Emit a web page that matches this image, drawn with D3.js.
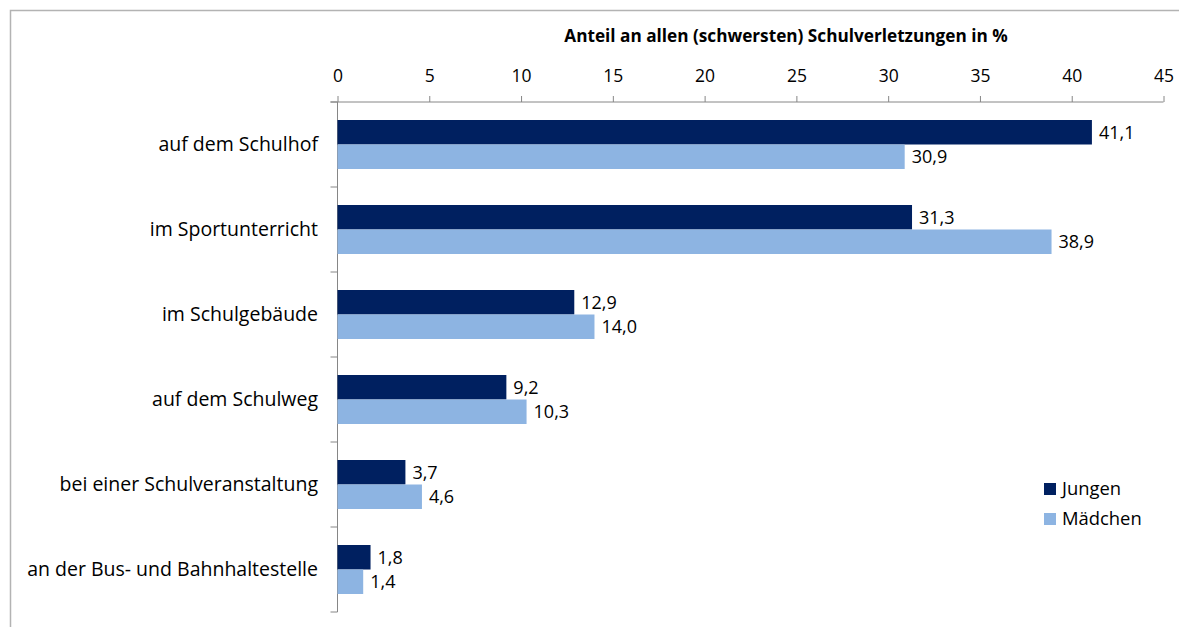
<!DOCTYPE html>
<html>
<head>
<meta charset="utf-8">
<script src="https://cdn.jsdelivr.net/npm/d3@7"></script>
<style>
  body { margin: 0; background: #fff; }
  svg text { font-family: "Open Sans", "Liberation Sans", sans-serif; fill: #000; }
</style>
</head>
<body>
<svg id="chart" width="1179" height="627"></svg>
<script>
// categories top to bottom
const categories = [
    'auf dem Schulhof',
    'im Sportunterricht',
    'im Schulgebäude',
    'auf dem Schulweg',
    'bei einer Schulveranstaltung',
    'an der Bus- und Bahnhaltestelle'
];
const jungen = [41.1, 31.3, 12.9, 9.2, 3.7, 1.8];
const maedchen = [30.9, 38.9, 14.0, 10.3, 4.6, 1.4];
const seriesNames = ['Jungen', 'Mädchen'];
const seriesColors = ['#002060', '#8DB4E2'];
const xTicks = [0, 5, 10, 15, 20, 25, 30, 35, 40, 45];
const axisTitle = 'Anteil an allen (schwersten) Schulverletzungen in %';

const svg = d3.select('#chart');
const plotLeft = 337.5, plotRight = 1163.5, plotTop = 102, plotBottom = 612;
const fontFamily = '"Open Sans", "Liberation Sans", sans-serif';

// outer frame (only top and left edges are inside the picture)
svg.append('path')
    .attr('d', 'M10.5,627 V10.5 H1179')
    .attr('fill', 'none')
    .attr('stroke', '#b3b3b3')
    .attr('stroke-width', 1.5);

const x = d3.scaleLinear().domain([0, 45]).range([plotLeft, plotRight]);
const y = d3.scaleBand().domain(categories).range([plotTop, plotBottom]);
const barH = 24.5;

// top axis
const xAxis = svg.append('g')
    .attr('transform', 'translate(0,' + plotTop + ')')
    .call(d3.axisTop(x).tickValues(xTicks).tickSize(6).tickPadding(14));
xAxis.selectAll('line, path').attr('stroke', '#868686');
xAxis.select('.domain').attr('d', 'M' + (plotLeft - 7) + ',0H' + plotRight);
xAxis.selectAll('text')
    .style('font-size', '17.5px')
    .style('font-family', fontFamily)
    .attr('fill', '#000');

// left axis with ticks at category boundaries
const boundaries = d3.range(categories.length + 1).map(i => plotTop + i * y.step());
svg.append('line')
    .attr('x1', plotLeft).attr('x2', plotLeft)
    .attr('y1', plotTop).attr('y2', plotBottom)
    .attr('stroke', '#868686');
svg.selectAll('.ytick').data(boundaries).join('line')
    .attr('class', 'ytick')
    .attr('x1', plotLeft - 7).attr('x2', plotLeft)
    .attr('y1', d => d).attr('y2', d => d)
    .attr('stroke', '#868686');

svg.selectAll('.cat').data(categories).join('text')
    .attr('class', 'cat')
    .attr('x', 318)
    .attr('y', d => y(d) + y.bandwidth() / 2)
    .attr('dy', '0.35em')
    .attr('text-anchor', 'end')
    .style('font-size', '19.5px')
    .text(d => d);

// bars
[jungen, maedchen].forEach((vals, s) => {
    const g = svg.append('g');
    g.selectAll('rect').data(vals).join('rect')
        .attr('x', plotLeft)
        .attr('y', (d, i) => y(categories[i]) + y.bandwidth() / 2 - barH + s * barH)
        .attr('width', d => x(d) - plotLeft)
        .attr('height', barH)
        .attr('fill', seriesColors[s]);
    g.selectAll('text').data(vals).join('text')
        .attr('x', d => x(d) + 7)
        .attr('y', (d, i) => y(categories[i]) + y.bandwidth() / 2 - barH / 2 + s * barH)
        .attr('dy', '0.35em')
        .style('font-size', '18px')
        .text(d => d.toFixed(1).replace('.', ','));
});

// title
svg.append('text')
    .attr('x', 786)
    .attr('y', 42)
    .attr('text-anchor', 'middle')
    .style('font-size', '17.2px')
    .style('font-weight', 'bold')
    .text(axisTitle);

// legend
const legend = svg.append('g').attr('transform', 'translate(1044,483)');
seriesNames.forEach((name, i) => {
    legend.append('rect')
        .attr('x', 0).attr('y', i * 30)
        .attr('width', 12).attr('height', 12)
        .attr('fill', seriesColors[i]);
    legend.append('text')
        .attr('x', 18).attr('y', i * 30 + 6)
        .attr('dy', '0.35em')
        .style('font-size', '18.4px')
        .text(name);
});
</script>
</body>
</html>
